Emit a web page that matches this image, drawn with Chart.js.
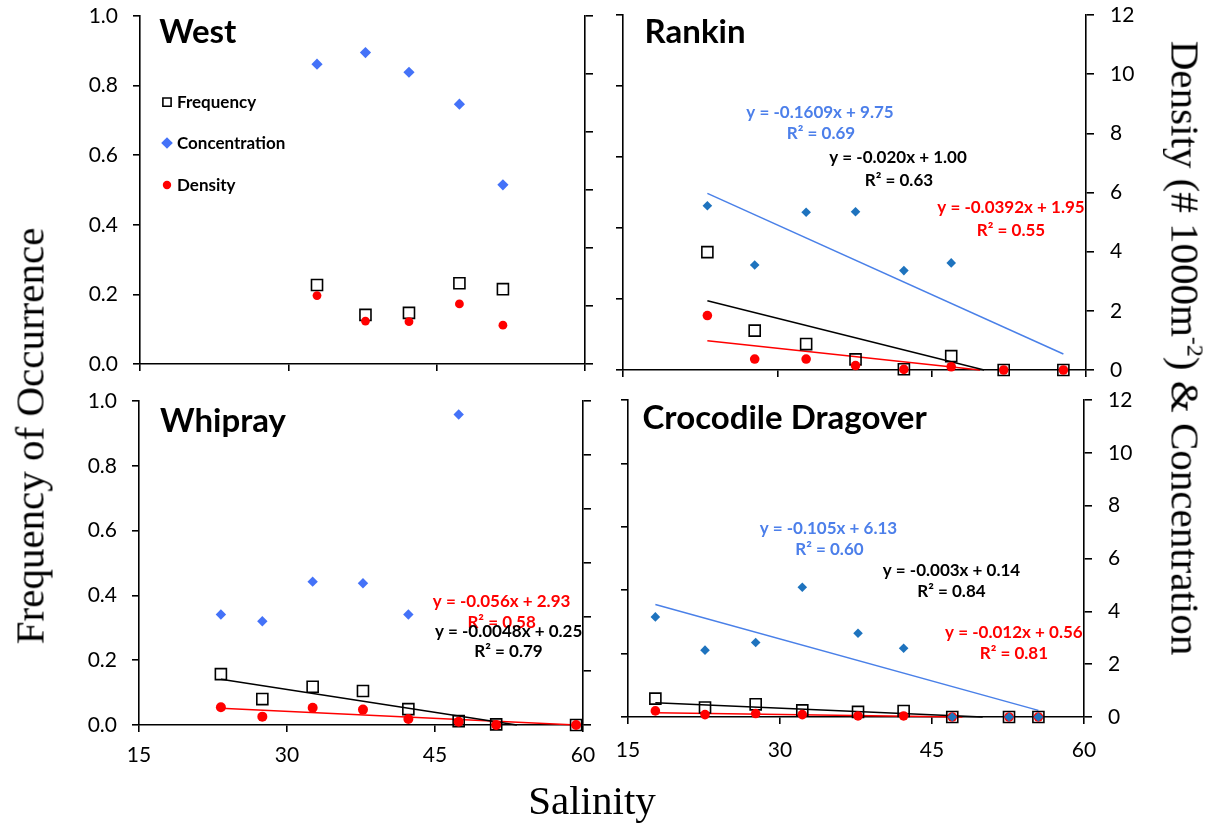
<!DOCTYPE html>
<html>
<head>
<meta charset="utf-8">
<title>Salinity panels</title>
<script src="https://cdn.jsdelivr.net/npm/chart.js"></script>
<style>
  body { margin: 0; background: #fff; }
  #fig { position: relative; width: 1208px; height: 825px; overflow: hidden; background: #fff; }
  #fig canvas { position: absolute; }
  .axt { position: absolute; font-family: 'Liberation Serif', 'Times New Roman', serif; font-size: 41px; color: #000; white-space: nowrap; line-height: 1; }
  .axt sup { font-size: 24px; vertical-align: 16px; line-height: 0; }
</style>
</head>
<body>
<div id="fig">
  <canvas id="west" width="580" height="385" style="left:40px;top:0px"></canvas>
  <canvas id="rankin" width="608" height="385" style="left:600px;top:0px"></canvas>
  <canvas id="whipray" width="580" height="440" style="left:40px;top:385px"></canvas>
  <canvas id="croc" width="608" height="440" style="left:600px;top:385px"></canvas>
  <div class="axt" style="left:30px;top:436px;transform:translate(-50%,-50%) rotate(-90deg)">Frequency of Occurrence</div>
  <div class="axt" style="left:1185px;top:348px;transform:translate(-50%,-50%) rotate(90deg)">Density (# 1000m<sup>-2</sup>) &amp; Concentration</div>
  <div class="axt" style="left:592px;top:800px;transform:translate(-50%,-50%)">Salinity</div>
</div>
<script>
// values; x is salinity
// West
const westSal  = [32.9, 37.8, 42.2, 47.3, 51.7];
const westFreq = [0.227, 0.141, 0.147, 0.232, 0.215];
const westConc = [10.34, 10.74, 10.06, 8.96, 6.18];
const westDens = [2.36, 1.48, 1.46, 2.07, 1.34];

// Rankin
const rankinSal  = [23.2, 27.8, 32.8, 37.6, 42.3, 46.9, 52.0, 57.8];
const rankinFreq = [0.332, 0.111, 0.073, 0.030, 0.002, 0.039, 0, 0];
const rankinConc = [5.55, 3.55, 5.33, 5.35, 3.36, 3.62, null, null];
const rankinDens = [1.84, 0.37, 0.37, 0.15, 0.02, 0.11, 0, 0];

// Whipray
const whipraySal  = [23.3, 27.5, 32.6, 37.7, 42.3, 47.4, 51.2, 59.3];
const whiprayFreq = [0.157, 0.080, 0.118, 0.105, 0.049, 0.012, 0.002, 0];
const whiprayConc = [4.09, 3.84, 5.31, 5.25, 4.09, 11.5, null, null];
const whiprayDens = [0.66, 0.31, 0.64, 0.57, 0.22, 0.12, 0, 0];

// Crocodile Dragover
const crocSal  = [17.7, 22.6, 27.6, 32.2, 37.7, 42.2, 47.0, 52.6, 55.5];
const crocFreq = [0.058, 0.030, 0.040, 0.021, 0.016, 0.019, 0, 0, 0];
const crocConc = [3.79, 2.53, 2.82, 4.91, 3.17, 2.60, 0, 0, 0];
const crocDens = [0.23, 0.09, 0.13, 0.09, 0.04, 0.04, 0, 0, 0];

// trend lines, start/end as drawn
const rankinConcFitX = [23.2, 57.8], rankinConcFitY = [5.97, 0.54];
const rankinFreqFitX = [23.2, 50.1], rankinFreqFitY = [0.195, 0];
const rankinDensFitX = [23.2, 49.7], rankinDensFitY = [0.99, 0];
const whiprayFreqFitX = [23.3, 53.3], whiprayFreqFitY = [0.141, 0];
const whiprayDensFitX = [23.3, 59.3], whiprayDensFitY = [0.62, 0];
const crocConcFitX = [17.7, 55.5], crocConcFitY = [4.26, 0.25];
const crocFreqFitX = [17.7, 50.0], crocFreqFitY = [0.045, 0];
const crocDensFitX = [17.7, 48.0], crocDensFitY = [0.16, 0];

// axes
const salRange = [15, 60], salStep = 15;
const freqRange = [0, 1], freqStep = 0.2;
const densRange = [0, 12], densStep = 2;

const FAM = "Lato, 'Open Sans', sans-serif";
const RED = '#ff0000';
const BLUE_TXT = '#4c7fea';
const BLUE_LINE = '#4a80e8';
const EQ = 17;     // equation text size
const HEAD = 33;   // panel name size

function pts(xs, ys) {
  return xs.map((x, i) => ({ x: x, y: ys[i] })).filter(p => p.y !== null);
}

function freqSet(xs, ys) {
  return { label: 'Frequency', data: pts(xs, ys), yAxisID: 'y', clip: false, order: 3,
    pointStyle: 'rect', pointRadius: 7.8, pointBorderWidth: 1.6,
    pointBackgroundColor: 'rgba(0,0,0,0)', pointBorderColor: '#000' };
}
function concSet(xs, ys, color, r) {
  return { label: 'Concentration', data: pts(xs, ys), yAxisID: 'y2', clip: false, order: 1,
    pointStyle: 'rectRot', pointRadius: r, pointBorderWidth: 0,
    pointBackgroundColor: color, pointBorderColor: color };
}
function densSet(xs, ys, r) {
  return { label: 'Density', data: pts(xs, ys), yAxisID: 'y2', clip: false, order: 2,
    pointStyle: 'circle', pointRadius: r, pointBorderWidth: 0,
    pointBackgroundColor: RED, pointBorderColor: RED };
}
function fitSet(xs, ys, axis, color) {
  return { label: 'fit', data: pts(xs, ys), yAxisID: axis, clip: false, order: 4,
    showLine: true, pointRadius: 0, borderColor: color, borderWidth: 1.5, fill: false };
}

// text drawn in data units: x salinity, y right axis
function textPlugin(items, legend) {
  return {
    id: 'panelText',
    afterDatasetsDraw(chart) {
      const ctx = chart.ctx, sx = chart.scales.x, sy = chart.scales.y2;
      ctx.save();
      ctx.textBaseline = 'middle';
      items.forEach(it => {
        ctx.font = 'bold ' + it.size + 'px ' + FAM;
        ctx.fillStyle = it.color || '#000';
        ctx.textAlign = it.align || 'center';
        ctx.fillText(it.text, sx.getPixelForValue(it.x), sy.getPixelForValue(it.y));
      });
      if (legend) {
        legend.rows.forEach(r => {
          const ds = chart.data.datasets[r.ds];
          const px = sx.getPixelForValue(legend.markX), py = sy.getPixelForValue(r.y);
          ctx.fillStyle = ds.pointBackgroundColor;
          ctx.strokeStyle = ds.pointBorderColor;
          ctx.lineWidth = ds.pointBorderWidth;
          Chart.helpers.drawPoint(ctx, { pointStyle: ds.pointStyle, radius: r.radius, borderWidth: ds.pointBorderWidth, rotation: 0 }, px, py);
          ctx.font = 'bold ' + EQ + 'px ' + FAM;
          ctx.fillStyle = '#000';
          ctx.textAlign = 'left';
          ctx.fillText(ds.label, sx.getPixelForValue(legend.textX), py);
        });
      }
      ctx.restore();
    }
  };
}

// keep chart areas where the figure has them: no extra room for label overhang
function noPad(s) {
  s.paddingTop = 0; s.paddingBottom = 0; s.paddingLeft = 0; s.paddingRight = 0;
}

function makePanel(id, p) {
  const border = { display: true, color: '#000', width: 1.6 };
  const grid = { display: true, drawOnChartArea: false, drawTicks: true, tickLength: 7, color: '#000', lineWidth: 1.6 };
  const tickFont = { family: FAM, size: 21 };
  return new Chart(document.getElementById(id), {
    type: 'scatter',
    data: { datasets: p.datasets },
    options: {
      responsive: false,
      animation: false,
      events: [],
      layout: { padding: { top: p.padTop, left: 0, right: 0, bottom: 0 } },
      plugins: { legend: { display: false }, tooltip: { enabled: false } },
      scales: {
        x: {
          type: 'linear', min: salRange[0], max: salRange[1],
          ticks: { stepSize: salStep, display: p.xLabels, font: tickFont, color: '#000', padding: p.xPad || 10 },
          grid: grid, border: border,
          afterFit: s => { s.height = p.xH; noPad(s); }
        },
        y: {
          type: 'linear', position: 'left', min: freqRange[0], max: freqRange[1],
          ticks: { stepSize: freqStep, display: p.yLabels, font: tickFont, color: '#000', padding: 15,
                   callback: v => v.toFixed(1) },
          grid: grid, border: border,
          afterFit: s => { s.width = p.yW; noPad(s); }
        },
        y2: {
          type: 'linear', position: 'right', min: densRange[0], max: densRange[1],
          ticks: { stepSize: densStep, display: p.y2Labels, font: tickFont, color: '#000', padding: 16 },
          grid: Object.assign({}, grid, { tickLength: 8 }), border: border,
          afterFit: s => { s.width = p.y2W; noPad(s); }
        }
      }
    },
    plugins: [textPlugin(p.texts, p.legend)]
  });
}

function build() {
  makePanel('west', {
    yW: 100, y2W: 35, padTop: 16, xH: 21, xLabels: false, yLabels: true, y2Labels: false,
    datasets: [
      freqSet(westSal, westFreq),
      concSet(westSal, westConc, '#4472f8', 5.6),
      densSet(westSal, westDens, 4.4)
    ],
    texts: [{ text: 'West', x: 16.95, y: 11.45, size: HEAD, align: 'left' }],
    legend: { markX: 17.73, textX: 18.74, rows: [
      { ds: 0, y: 9.03, radius: 5.8 },
      { ds: 1, y: 7.62, radius: 5.8 },
      { ds: 2, y: 6.17, radius: 4.2 }
    ] }
  });

  makePanel('rankin', {
    yW: 23, y2W: 122, padTop: 15, xH: 15, xLabels: false, yLabels: false, y2Labels: true,
    datasets: [
      freqSet(rankinSal, rankinFreq),
      concSet(rankinSal, rankinConc, '#1e73be', 4.8),
      densSet(rankinSal, rankinDens, 4.8),
      fitSet(rankinConcFitX, rankinConcFitY, 'y2', BLUE_LINE),
      fitSet(rankinFreqFitX, rankinFreqFitY, 'y', '#000'),
      fitSet(rankinDensFitX, rankinDensFitY, 'y2', RED)
    ],
    texts: [
      { text: 'Rankin', x: 17.1, y: 11.41, size: HEAD, align: 'left' },
      { text: 'y = -0.1609x + 9.75', x: 34.15, y: 8.72, size: EQ, color: BLUE_TXT },
      { text: 'R\u00b2 = 0.69', x: 34.24, y: 8.01, size: EQ, color: BLUE_TXT },
      { text: 'y = -0.020x + 1.00', x: 41.73, y: 7.17, size: EQ },
      { text: 'R\u00b2 = 0.63', x: 41.82, y: 6.42, size: EQ },
      { text: 'y = -0.0392x + 1.95', x: 52.71, y: 5.48, size: EQ, color: RED },
      { text: 'R\u00b2 = 0.55', x: 52.71, y: 4.73, size: EQ, color: RED }
    ]
  });

  makePanel('whipray', {
    yW: 99, y2W: 37, padTop: 16, xH: 100, xLabels: true, xPad: 11, yLabels: true, y2Labels: false,
    datasets: [
      freqSet(whipraySal, whiprayFreq),
      concSet(whipraySal, whiprayConc, '#4472f8', 5.2),
      densSet(whipraySal, whiprayDens, 5),
      fitSet(whiprayFreqFitX, whiprayFreqFitY, 'y', '#000'),
      fitSet(whiprayDensFitX, whiprayDensFitY, 'y2', RED)
    ],
    texts: [
      { text: 'Whipray', x: 17.13, y: 11.26, size: HEAD, align: 'left' },
      { text: 'y = -0.056x + 2.93', x: 51.75, y: 4.59, size: EQ, color: RED },
      { text: 'R\u00b2 = 0.58', x: 51.75, y: 3.80, size: EQ, color: RED },
      { text: 'y = -0.0048x + 0.25', x: 52.46, y: 3.48, size: EQ },
      { text: 'R\u00b2 = 0.79', x: 52.45, y: 2.71, size: EQ }
    ]
  });

  makePanel('croc', {
    yW: 28, y2W: 124, padTop: 15, xH: 108, xLabels: true, xPad: 14, yLabels: false, y2Labels: true,
    datasets: [
      freqSet(crocSal, crocFreq),
      concSet(crocSal, crocConc, '#1e73be', 4.8),
      densSet(crocSal, crocDens, 4.8),
      fitSet(crocConcFitX, crocConcFitY, 'y2', BLUE_LINE),
      fitSet(crocFreqFitX, crocFreqFitY, 'y', '#000'),
      fitSet(crocDensFitX, crocDensFitY, 'y2', RED)
    ],
    texts: [
      { text: 'Crocodile Dragover', x: 16.44, y: 11.32, size: HEAD, align: 'left' },
      { text: 'y = -0.105x + 6.13', x: 34.78, y: 7.12, size: EQ, color: BLUE_TXT },
      { text: 'R\u00b2 = 0.60', x: 34.88, y: 6.33, size: EQ, color: BLUE_TXT },
      { text: 'y = -0.003x + 0.14', x: 46.92, y: 5.53, size: EQ },
      { text: 'R\u00b2 = 0.84', x: 46.92, y: 4.75, size: EQ },
      { text: 'y = -0.012x + 0.56', x: 53.08, y: 3.19, size: EQ, color: RED },
      { text: 'R\u00b2 = 0.81', x: 53.08, y: 2.39, size: EQ, color: RED }
    ]
  });
}

if (document.fonts && document.fonts.load) {
  Promise.all([document.fonts.load('21px Lato'), document.fonts.load('bold 17px Lato')]).then(build, build);
} else {
  build();
}
</script>
</body>
</html>
